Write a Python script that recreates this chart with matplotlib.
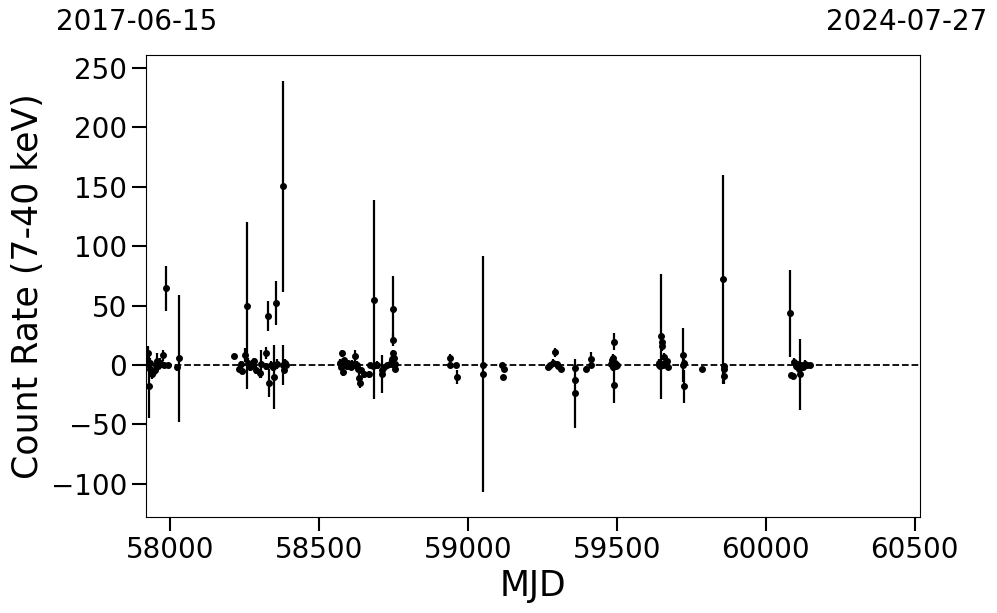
import matplotlib
matplotlib.use('Agg')
from matplotlib import pyplot as plt
import numpy as np

# light curve, 7-40 keV
mjd = [57925, 57927, 57929, 57931, 57933, 57936, 57940, 57944, 57948, 57952,
       57956, 57960, 57965, 57970, 57975, 57980, 57986, 57992, 58022, 58029,
       58215, 58232, 58238, 58242, 58250, 58257, 58262, 58268, 58275, 58283,
       58290, 58301, 58305, 58321, 58322, 58329, 58332, 58338, 58344, 58348,
       58354, 58360, 58378, 58379, 58382, 58386, 58390,
       58572, 58575, 58578, 58580, 58583, 58587, 58590, 58594, 58598, 58603,
       58608, 58612, 58617, 58622, 58626, 58630, 58633, 58637, 58640, 58652,
       58669, 58672, 58680, 58686, 58690, 58695, 58710, 58713, 58718, 58728,
       58740, 58745, 58747, 58748, 58749, 58751, 58752, 58754, 58756,
       58940, 58941, 58960, 58963, 59049, 59051, 59113, 59118, 59121,
       59270, 59275, 59284, 59292, 59298, 59303, 59311, 59359, 59360, 59361,
       59398, 59413, 59414, 59480, 59483, 59486, 59488, 59490, 59491, 59492,
       59494, 59496, 59499,
       59640, 59643, 59646, 59649, 59651, 59653, 59656, 59660, 59663, 59667,
       59672, 59722, 59723, 59724, 59726, 59786, 59858, 59859, 59860, 59861,
       60083, 60084, 60090, 60095, 60100, 60105, 60110, 60116, 60120, 60125,
       60132, 60140, 60150]
rate = [1, 9.8, -18, -3, 2, -5, -8, -6, -4, 0,
        3, -1, 2, 1, 8, 0, 64.5, 0, -2, 5.6,
        7.6, -3, 1, -5, 8.4, 50, 2, -2, 0, 3,
        -4, -7, 1, 10, -1, 41, -15, 0, -2, -10,
        52, 1, 150.5, 0, -4, 2, 0,
        2, -2, 9.8, -6, 4, 0, 1, -1, 2, 0,
        -2, 1, 0, 7.6, 0, -3, -11, -15, -4, -8,
        -8, 0, -1, 55, 0, 0, -8, -4, -2, 0,
        1, 5, 47, 21, 9.8, 6, 0, -3, 1,
        5.6, 0, 0, -10, -7.6, 0, 0, -10.4, -3.4,
        -2, 0, 2, 10.7, 1, -1, -3, -24, -2.7, -12.6,
        -3, 4.8, 0, 1, 4, 6, -2, 0, 19.6, -17,
        2, -1, 0,
        0, 2, -1, 24, 19.6, 16, 0, 7, 1, 3,
        -2, 8.4, 0, -18, 2, -3.6, 72, -1, -3.6, -9.2,
        43.5, -8.4, -9, 2.8, -1, 1, -3, -8, 0, -2,
        1, 0, 0]
rate_err = [3, 6, 27, 4, 4, 3, 4, 3, 3, 4,
            7, 3, 4, 3, 5, 2, 19, 2, 3, 53.5,
            2, 3, 2, 3, 6, 70, 4, 3, 4, 3,
            4, 4, 12, 5, 3, 12.6, 12, 3, 3, 27,
            18.5, 4, 89, 17, 4, 3, 2,
            3, 2, 3, 3, 2, 3, 2, 3, 2, 3,
            2, 3, 2, 5, 3, 2, 4, 4, 2, 3,
            3, 2, 2, 83.5, 2, 3, 16, 4, 2, 2,
            3, 4, 28, 5, 3, 3, 2, 2, 2,
            4, 2, 2, 6, 99, 2, 2, 2, 2,
            2, 2, 3, 4, 2, 2, 2, 29, 3, 3,
            2, 6, 2, 2, 3, 3, 3, 2, 7, 15,
            3, 2, 2,
            2, 3, 2, 53, 5, 4, 3, 3, 2, 2,
            2, 23, 2, 14, 3, 2, 88, 2, 3, 7,
            36.5, 2, 2, 3, 3, 2, 2, 30, 2, 2,
            3, 2, 2]

start_date = '2017-06-15'
end_date = '2024-07-27'

fig = plt.figure(figsize=(9.97, 6.13), dpi=100)
ax = fig.add_axes([0.1464, 0.1566, 0.7764, 0.7537])

ax.errorbar(mjd, rate, yerr=rate_err, fmt='o', color='black', ms=4,
            elinewidth=1.6, capsize=0)
ax.axhline(0, color='black', linestyle='--', lw=1.3)

ax.set_xlim(57919, 60518)
ax.set_ylim(-128, 261)
ax.set_xticks([58000, 58500, 59000, 59500, 60000, 60500])
ax.set_yticks(np.arange(-100, 251, 50))
ax.tick_params(axis='both', labelsize=20, length=10, width=1.5)
ax.set_xlabel('MJD', fontsize=25)
ax.set_ylabel('Count Rate (7-40 keV)', fontsize=25)

fig.text(137 / 997, 1 - 22 / 613, start_date, fontsize=20, ha='center', va='center')
fig.text(907 / 997, 1 - 22 / 613, end_date, fontsize=20, ha='center', va='center')

plt.savefig('out.png', dpi=100)
